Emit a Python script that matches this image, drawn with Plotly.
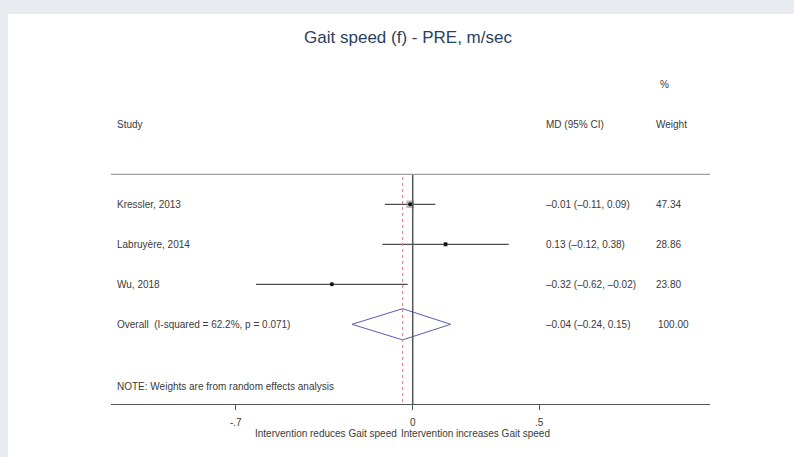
import plotly.graph_objects as go

# Study-level estimates (mean difference, 95% CI) and random-effects weights
studies = ["Kressler, 2013", "Labruyère, 2014", "Wu, 2018"]
md = [-0.01, 0.13, -0.32]
ci_low = [-0.11, -0.12, -0.62]
ci_high = [0.09, 0.38, -0.02]
weights = [47.34, 28.86, 23.80]

overall_label = "Overall  (I-squared = 62.2%, p = 0.071)"
overall_md = -0.04
overall_low = -0.24
overall_high = 0.15
overall_weight = 100.00

x_ticks = [-0.7, 0, 0.5]
x_tick_text = ["-.7", "0", ".5"]

TEXT = "#3a3a3a"
FONT = "Liberation Sans, Arial, sans-serif"
FS = 10

W, H = 794, 457
ML, MR, MB, MT = 111, 84, 53, 0
PLOT_W, PLOT_H = W - ML - MR, H - MB - MT

fig = go.Figure()

# Row positions: studies 0..2, overall at 3
rows = list(range(len(studies)))
overall_row = len(studies)

# Confidence interval whiskers
for r, lo, hi in zip(rows, ci_low, ci_high):
    fig.add_trace(go.Scatter(x=[lo, hi], y=[r, r], mode="lines",
                             line=dict(color="#222222", width=1),
                             hoverinfo="skip", showlegend=False, cliponaxis=False))

# Weight boxes and point estimates
fig.add_trace(go.Scatter(x=md, y=rows, mode="markers",
                         marker=dict(symbol="square", color="#9a9a9a",
                                     size=[w * 0.16 for w in weights], line=dict(width=0)),
                         hoverinfo="skip", showlegend=False, cliponaxis=False))
fig.add_trace(go.Scatter(x=md, y=rows, mode="markers",
                         marker=dict(symbol="circle", color="#111111", size=4),
                         hoverinfo="skip", showlegend=False, cliponaxis=False))

# Pooled-estimate diamond
half_h = 0.39
fig.add_trace(go.Scatter(
    x=[overall_low, overall_md, overall_high, overall_md, overall_low],
    y=[overall_row, overall_row - half_h, overall_row, overall_row + half_h, overall_row],
    mode="lines", line=dict(color="#5a5ab4", width=1),
    hoverinfo="skip", showlegend=False, cliponaxis=False))

# Null line and pooled-estimate reference line
top_line_row = -0.75
fig.add_shape(type="line", xref="x", yref="y", x0=0, x1=0, y0=top_line_row, y1=4.9925,
              line=dict(color="#555555", width=1.5))
fig.add_shape(type="line", xref="x", yref="y", x0=overall_md, x1=overall_md,
              y0=top_line_row + 0.07, y1=4.9925,
              line=dict(color="#e58a90", width=1.2, dash="dot"))

# Header rule across the table
fig.add_shape(type="line", xref="paper", yref="y", x0=0, x1=1,
              y0=top_line_row, y1=top_line_row, line=dict(color="#a0a0a0", width=1.2))

# Text columns
label_x = -1.177
md_x = 0.52
wt_x = 0.953


def txt(x, y, s, anchor="left", size=FS, color=TEXT):
    fig.add_annotation(x=x, y=y, xref="x", yref="y", text=s, showarrow=False,
                       xanchor=anchor, yanchor="middle",
                       font=dict(family=FONT, size=size, color=color))


def ci_text(m, lo, hi):
    return f"{m:.2f} ({lo:.2f}, {hi:.2f})".replace("-", "\u2013")


txt(wt_x + 0.018, -3, "%")
txt(label_x, -2, "Study")
txt(md_x, -2, "MD (95% CI)")
txt(wt_x, -2, "Weight")

for r, s, m, lo, hi, w in zip(rows, studies, md, ci_low, ci_high, weights):
    txt(label_x, r, s)
    txt(md_x, r, ci_text(m, lo, hi))
    txt(wt_x, r, f"{w:.2f}")

txt(label_x, overall_row, overall_label)
txt(md_x, overall_row, ci_text(overall_md, overall_low, overall_high))
txt(wt_x + 0.008, overall_row, f"{overall_weight:.2f}")

txt(label_x, 4.55, "NOTE: Weights are from random effects analysis")

# Direction labels under the axis (pixel row 433)
dir_y = -(433 - PLOT_H) / PLOT_H
fig.add_annotation(x=-0.055, y=dir_y, xref="x", yref="paper", yanchor="middle",
                   text="Intervention reduces Gait speed", showarrow=False, xanchor="right",
                   font=dict(family=FONT, size=FS, color=TEXT))
fig.add_annotation(x=-0.055, y=dir_y, xref="x", yref="paper", yanchor="middle",
                   text="Intervention increases Gait speed", showarrow=False, xanchor="left",
                   font=dict(family=FONT, size=FS, color=TEXT))

# White panel inside the grey page border (panel starts at pixel 8, 14)
fig.add_shape(type="rect", xref="paper", yref="paper",
              x0=(8 - ML) / PLOT_W, x1=(W + 20 - ML) / PLOT_W,
              y0=-(H + 20 - PLOT_H) / PLOT_H, y1=(PLOT_H - 14) / PLOT_H,
              fillcolor="white", line=dict(width=0), layer="below")

fig.update_layout(
    width=W, height=H,
    margin=dict(l=ML, r=MR, t=MT, b=MB, pad=0),
    paper_bgcolor="#e8ebf0",
    plot_bgcolor="rgba(0,0,0,0)",
    title=dict(text="Gait speed (f) - PRE, m/sec", x=408 / W, xanchor="center",
               y=1 - 37 / H, yanchor="middle",
               font=dict(family=FONT, size=17, color="#2a3f5f")),
    xaxis=dict(range=[-1.194, 1.1765], tickvals=x_ticks, ticktext=x_tick_text,
               showgrid=False, zeroline=False, showline=True, linecolor="#555555",
               linewidth=1.3, ticks="outside", ticklen=5, tickcolor="#555555",
               ticklabelstandoff=4,
               tickfont=dict(family=FONT, size=FS, color=TEXT), fixedrange=True),
    yaxis=dict(range=[4.9925, -5.1075], visible=False, fixedrange=True),
    showlegend=False,
)

fig.write_html("out.html")
